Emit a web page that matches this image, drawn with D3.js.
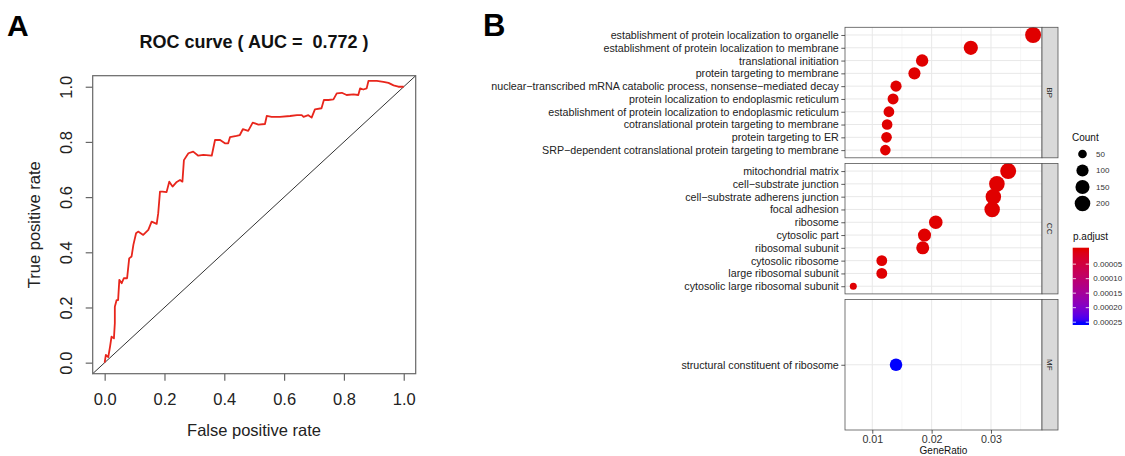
<!DOCTYPE html>
<html>
<head>
<meta charset="utf-8">
<script src="https://cdn.jsdelivr.net/npm/d3@7"></script>
<style>
  body { margin: 0; background: #fff; }
  svg { display: block; }
</style>
</head>
<body>
<svg id="chart" width="1125" height="456"></svg>
<script>
// Data

// ROC curve
const rocFpr = [
  0, 0.004, 0.012, 0.018, 0.023, 0.031, 0.034, 0.034, 0.040, 0.045,
  0.049, 0.057, 0.064, 0.075, 0.082, 0.090, 0.096, 0.105, 0.112, 0.129,
  0.146, 0.157, 0.174, 0.179, 0.185, 0.193, 0.207, 0.216, 0.227, 0.241,
  0.252, 0.260, 0.265, 0.280, 0.296, 0.313, 0.330, 0.358, 0.369, 0.386,
  0.402, 0.413, 0.419, 0.441, 0.452, 0.462, 0.480, 0.495, 0.514, 0.536,
  0.542, 0.558, 0.586, 0.620, 0.643, 0.659, 0.665, 0.681, 0.692, 0.703,
  0.725, 0.733, 0.748, 0.765, 0.776, 0.793, 0.809, 0.832, 0.848, 0.854,
  0.865, 0.876, 0.882, 0.910, 0.932, 0.949, 0.966, 0.982, 1.000
]
const rocTpr = [
  0, 0.028, 0.020, 0.058, 0.094, 0.088, 0.143, 0.203, 0.227, 0.227,
  0.300, 0.288, 0.306, 0.306, 0.378, 0.385, 0.427, 0.469, 0.475, 0.463,
  0.481, 0.511, 0.503, 0.541, 0.620, 0.620, 0.618, 0.656, 0.638, 0.655,
  0.662, 0.656, 0.734, 0.759, 0.765, 0.750, 0.753, 0.750, 0.807, 0.807,
  0.795, 0.795, 0.817, 0.822, 0.825, 0.846, 0.840, 0.870, 0.863, 0.865,
  0.894, 0.891, 0.891, 0.894, 0.897, 0.897, 0.891, 0.897, 0.888, 0.918,
  0.922, 0.952, 0.952, 0.954, 0.976, 0.978, 0.970, 0.972, 0.970, 0.994,
  0.990, 0.994, 1.021, 1.021, 1.018, 1.014, 1.005, 1.000, 1.000
]
const aucLabel = "0.772"
const rocTicks = [0, 0.2, 0.4, 0.6, 0.8, 1.0]

// GO enrichment dot plot
const bpTerms = [
  "establishment of protein localization to organelle",
  "establishment of protein localization to membrane",
  "translational initiation",
  "protein targeting to membrane",
  "nuclear\u2212transcribed mRNA catabolic process, nonsense\u2212mediated decay",
  "protein localization to endoplasmic reticulum",
  "establishment of protein localization to endoplasmic reticulum",
  "cotranslational protein targeting to membrane",
  "protein targeting to ER",
  "SRP\u2212dependent cotranslational protein targeting to membrane"
]
const bpRatio = [0.0371, 0.0266, 0.0184, 0.0171, 0.0140, 0.0135, 0.0128, 0.0125, 0.0124, 0.0122]
const bpCount = [215, 154, 106, 99, 81, 78, 74, 72, 72, 71]
const bpPadj = [1e-12, 2e-10, 3e-9, 5e-9, 2e-8, 3e-8, 5e-8, 6e-8, 8e-8, 9e-8]

const ccTerms = [
  "mitochondrial matrix",
  "cell\u2212substrate junction",
  "cell\u2212substrate adherens junction",
  "focal adhesion",
  "ribosome",
  "cytosolic part",
  "ribosomal subunit",
  "cytosolic ribosome",
  "large ribosomal subunit",
  "cytosolic large ribosomal subunit"
]
const ccRatio = [0.0329, 0.0310, 0.0304, 0.0302, 0.0207, 0.0188, 0.0185, 0.0116, 0.0116, 0.0068]
const ccCount = [214, 201, 198, 196, 135, 122, 120, 75, 75, 44]
const ccPadj = [4e-9, 1e-9, 2e-9, 2e-9, 5e-8, 2e-7, 4e-7, 6e-7, 8e-7, 2e-6]

const mfTerms = ["structural constituent of ribosome"]
const mfRatio = [0.0140]
const mfCount = [108]
const mfPadj = [0.000253]

const ontologies = ["BP", "CC", "MF"]
const ratioTicks = [0.01, 0.02, 0.03]
const ratioMinor = [0.015, 0.025, 0.035]
const countBreaks = [50, 100, 150, 200]
const padjBreaks = [0.00005, 0.00010, 0.00015, 0.00020, 0.00025]

// Globals
const FONT = '"Liberation Sans", Arial, Helvetica, sans-serif'
const svg = d3.select("#chart").attr("font-family", FONT)

// ---------- Panel A : ROC curve ----------
const rx = d3.scaleLinear().domain([-0.04, 1.04]).range([92.7, 415.7])
const ry = d3.scaleLinear().domain([-0.04, 1.04]).range([373.7, 75.7])
const gA = svg.append("g")

gA.append("text")
  .attr("x", 7).attr("y", 36)
  .attr("font-size", 30).attr("font-weight", 900)
  .text("A")

gA.append("text")
  .attr("x", 254).attr("y", 48)
  .attr("text-anchor", "middle")
  .attr("font-size", 18).attr("font-weight", "bold")
  .attr("fill", "#111")
  .style("white-space", "pre")
  .text("ROC curve ( AUC =  " + aucLabel + " )")

// reference diagonal
gA.append("line")
  .attr("x1", rx(-0.04)).attr("y1", ry(-0.04))
  .attr("x2", rx(1.04)).attr("y2", ry(1.04))
  .attr("stroke", "#333").attr("stroke-width", 1)

let rocLine = d3.line()
  .x((d, i) => rx(rocFpr[i]))
  .y((d, i) => ry(rocTpr[i]))

gA.append("path")
  .attr("d", rocLine(rocFpr))
  .attr("fill", "none")
  .attr("stroke", "#e8261c")
  .attr("stroke-width", 1.8)
  .attr("stroke-linejoin", "round")

gA.append("rect")
  .attr("x", rx(-0.04)).attr("y", ry(1.04))
  .attr("width", rx(1.04) - rx(-0.04))
  .attr("height", ry(-0.04) - ry(1.04))
  .attr("fill", "none").attr("stroke", "#666").attr("stroke-width", 1.2)

let xAxisA = gA.append("g")
  .attr("transform", `translate(0,${ry(-0.04)})`)
  .call(d3.axisBottom(rx).tickValues(rocTicks).tickFormat(d3.format(".1f")).tickSize(7))
xAxisA.attr("font-family", FONT).attr("font-size", 16.5)
xAxisA.select(".domain").remove()
xAxisA.selectAll("line").attr("stroke", "#666").attr("stroke-width", 1.2)
xAxisA.selectAll("text").attr("y", 31).attr("dy", 0).attr("fill", "#222")

let yAxisA = gA.append("g")
  .attr("transform", `translate(${rx(-0.04)},0)`)
  .call(d3.axisLeft(ry).tickValues(rocTicks).tickFormat(d3.format(".1f")).tickSize(7))
yAxisA.attr("font-family", FONT).attr("font-size", 16.5)
yAxisA.select(".domain").remove()
yAxisA.selectAll("line").attr("stroke", "#666").attr("stroke-width", 1.2)
yAxisA.selectAll("text")
  .attr("transform", "rotate(-90)")
  .attr("x", 0).attr("y", -20.7).attr("dy", 0)
  .attr("text-anchor", "middle")
  .attr("fill", "#222")

gA.append("text")
  .attr("x", 254).attr("y", 436)
  .attr("text-anchor", "middle")
  .attr("font-size", 16.5).attr("fill", "#222")
  .text("False positive rate")

gA.append("text")
  .attr("transform", "translate(40,224.7) rotate(-90)")
  .attr("text-anchor", "middle")
  .attr("font-size", 16.5).attr("fill", "#222")
  .text("True positive rate")

// ---------- Panel B : GO dot plot ----------
const facets = [
  {name: ontologies[0], terms: bpTerms, ratio: bpRatio, count: bpCount, padj: bpPadj},
  {name: ontologies[1], terms: ccTerms, ratio: ccRatio, count: ccCount, padj: ccPadj},
  {name: ontologies[2], terms: mfTerms, ratio: mfRatio, count: mfCount, padj: mfPadj}
]
const allCount = bpCount.concat(ccCount, mfCount)
const allPadj = bpPadj.concat(ccPadj, mfPadj)

const px0 = 845, px1 = 1042, stripW = 16
const panelTop = 27.3, panelH = 130.5, panelGap = 5.6

const gx = d3.scaleLinear().domain([0.0054, 0.0386]).range([px0, px1])

// ggplot-style area scale: radius linear in sqrt of rescaled count
const countT = d3.scaleLinear().domain(d3.extent(allCount)).range([0, 1])
const radius = d3.scaleLinear().domain([0, 1]).range([3.5, 8])
let sizeOf = c => radius(Math.sqrt(Math.max(0, countT(c))))

const color = d3.scaleLinear()
  .domain(d3.extent(allPadj))
  .range(["#e00000", "#0000ff"])
  .interpolate(d3.interpolateLab)

const gB = svg.append("g")

gB.append("text")
  .attr("x", 483).attr("y", 36)
  .attr("font-size", 31).attr("font-weight", 900)
  .text("B")

facets.forEach((f, i) => {
  let top = panelTop + i * (panelH + panelGap)
  let y = d3.scalePoint().domain(f.terms).range([top, top + panelH]).padding(0.6)
  let g = gB.append("g")

  g.append("rect")
    .attr("x", px0).attr("y", top).attr("width", px1 - px0).attr("height", panelH)
    .attr("fill", "#fff")

  // minor and major vertical grid
  g.selectAll("line.minor").data(ratioMinor.filter(d => gx(d) < px1))
    .enter().append("line")
    .attr("x1", d => gx(d)).attr("x2", d => gx(d))
    .attr("y1", top).attr("y2", top + panelH)
    .attr("stroke", "#f0f0f0").attr("stroke-width", 0.6)
  g.selectAll("line.major").data(ratioTicks)
    .enter().append("line")
    .attr("x1", d => gx(d)).attr("x2", d => gx(d))
    .attr("y1", top).attr("y2", top + panelH)
    .attr("stroke", "#e8e8e8").attr("stroke-width", 1)
  g.selectAll("line.hgrid").data(f.terms)
    .enter().append("line")
    .attr("x1", px0).attr("x2", px1)
    .attr("y1", d => y(d)).attr("y2", d => y(d))
    .attr("stroke", "#e8e8e8").attr("stroke-width", 1)

  // dots
  g.selectAll("circle").data(f.terms)
    .enter().append("circle")
    .attr("cx", (d, k) => gx(f.ratio[k]))
    .attr("cy", d => y(d))
    .attr("r", (d, k) => sizeOf(f.count[k]))
    .attr("fill", (d, k) => color(f.padj[k]))

  // panel border
  g.append("rect")
    .attr("x", px0).attr("y", top).attr("width", px1 - px0).attr("height", panelH)
    .attr("fill", "none").attr("stroke", "#555").attr("stroke-width", 0.8)

  // strip
  g.append("rect")
    .attr("x", px1).attr("y", top).attr("width", stripW).attr("height", panelH)
    .attr("fill", "#d9d9d9").attr("stroke", "#555").attr("stroke-width", 0.8)
  g.append("text")
    .attr("transform", `translate(${px1 + stripW / 2},${top + panelH / 2}) rotate(90)`)
    .attr("text-anchor", "middle").attr("dy", "0.35em")
    .attr("font-size", 8).attr("fill", "#1a1a1a")
    .text(f.name)

  // y axis
  let ya = g.append("g")
    .attr("transform", `translate(${px0},0)`)
    .call(d3.axisLeft(y).tickSize(3.7).tickPadding(2.5))
  ya.attr("font-family", FONT).attr("font-size", 10.7)
  ya.select(".domain").remove()
  ya.selectAll("line").attr("stroke", "#333").attr("stroke-width", 0.8)
  ya.selectAll("text").attr("fill", "#222").style("white-space", "pre")

  if (i === facets.length - 1) {
    let xa = g.append("g")
      .attr("transform", `translate(0,${top + panelH})`)
      .call(d3.axisBottom(gx).tickValues(ratioTicks).tickFormat(d3.format(".2f")).tickSize(3.7).tickPadding(2))
    xa.attr("font-family", FONT).attr("font-size", 10.7)
    xa.select(".domain").remove()
    xa.selectAll("line").attr("stroke", "#333").attr("stroke-width", 0.8)
    xa.selectAll("text").attr("fill", "#333")
    g.append("text")
      .attr("x", (px0 + px1) / 2).attr("y", 454)
      .attr("text-anchor", "middle")
      .attr("font-size", 10).attr("fill", "#111")
      .text("GeneRatio")
  }
})

// ---------- legends ----------
const gL = svg.append("g")
gL.append("text")
  .attr("x", 1072).attr("y", 141)
  .attr("font-size", 10).attr("fill", "#111")
  .text("Count")

gL.selectAll("circle.key").data(countBreaks)
  .enter().append("circle")
  .attr("cx", 1082.5)
  .attr("cy", (d, i) => 154 + i * 16.5)
  .attr("r", d => sizeOf(d))
  .attr("fill", "#000")
gL.selectAll("text.key").data(countBreaks)
  .enter().append("text")
  .attr("x", 1096)
  .attr("y", (d, i) => 154 + i * 16.5)
  .attr("dy", "0.35em")
  .attr("font-size", 8).attr("fill", "#333")
  .text(d => d)

gL.append("text")
  .attr("x", 1073).attr("y", 240)
  .attr("font-size", 10).attr("fill", "#111")
  .text("p.adjust")

const barX = 1072.7, barY = 247.7, barW = 16.3, barH = 77.3, nbin = 20
const barScale = d3.scaleLinear()
  .domain(d3.extent(allPadj))
  .range([barY + barH * 0.5 / nbin, barY + barH * (nbin - 0.5) / nbin])

let defs = svg.append("defs")
let grad = defs.append("linearGradient")
  .attr("id", "padjGrad").attr("x1", 0).attr("x2", 0).attr("y1", 0).attr("y2", 1)
d3.range(0, 1.0001, 0.05).forEach(t => {
  grad.append("stop")
    .attr("offset", 0.025 + t * 0.95)
    .attr("stop-color", color(color.domain()[0] + t * (color.domain()[1] - color.domain()[0])))
})
gL.append("rect")
  .attr("x", barX).attr("y", barY).attr("width", barW).attr("height", barH)
  .attr("fill", "url(#padjGrad)")

gL.selectAll("line.tl").data(padjBreaks)
  .enter().append("line")
  .attr("x1", barX).attr("x2", barX + barW / 5)
  .attr("y1", d => barScale(d)).attr("y2", d => barScale(d))
  .attr("stroke", "#fff").attr("stroke-width", 0.8)
gL.selectAll("line.tr").data(padjBreaks)
  .enter().append("line")
  .attr("x1", barX + barW * 4 / 5).attr("x2", barX + barW)
  .attr("y1", d => barScale(d)).attr("y2", d => barScale(d))
  .attr("stroke", "#fff").attr("stroke-width", 0.8)
gL.selectAll("text.bar").data(padjBreaks)
  .enter().append("text")
  .attr("x", 1093.3)
  .attr("y", d => barScale(d))
  .attr("dy", "0.35em")
  .attr("font-size", 8).attr("fill", "#333")
  .text(d => d3.format(".5f")(d))
</script>
</body>
</html>
